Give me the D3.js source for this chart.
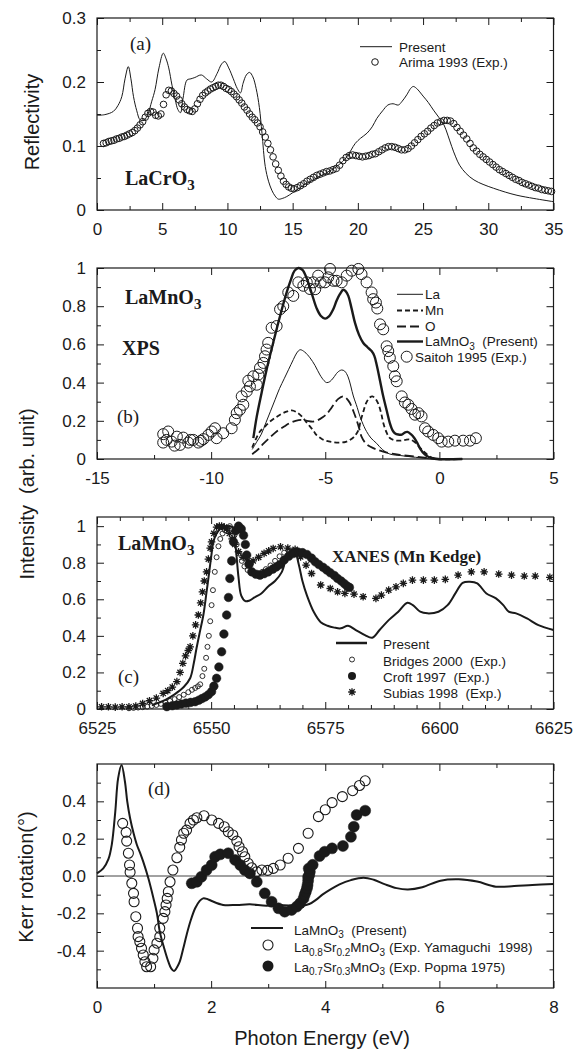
<!DOCTYPE html>
<html><head><meta charset="utf-8">
<script src="https://cdn.jsdelivr.net/npm/d3@7"></script>
<style>body{margin:0;background:#fff}svg{display:block}</style>
</head><body>
<svg id="c" width="575" height="1051"></svg>
<script>
// ---------------- DATA ----------------
// Panel (a) LaCrO3 reflectivity
const aPresent=[[0,0.148],[0.6,0.149],[1.25,0.154],[1.6,0.163],[1.9,0.177],[2.15,0.205],[2.4,0.224],[2.6,0.205],[2.8,0.177],[3.05,0.155],[3.3,0.141],[3.6,0.14],[3.9,0.15],[4.2,0.17],[4.45,0.188],[4.75,0.222],[5.08,0.245],[5.3,0.236],[5.5,0.222],[5.75,0.195],[6.0,0.172],[6.2,0.157],[6.4,0.152],[6.6,0.175],[6.9,0.203],[7.2,0.205],[7.5,0.207],[8.0,0.211],[8.4,0.205],[8.8,0.2],[9.2,0.213],[9.55,0.228],[9.8,0.232],[10.1,0.222],[10.45,0.205],[10.75,0.19],[11.0,0.183],[11.2,0.198],[11.45,0.211],[11.7,0.215],[11.95,0.208],[12.2,0.19],[12.45,0.16],[12.65,0.12],[12.9,0.068],[13.15,0.045],[13.4,0.031],[13.65,0.022],[13.9,0.017],[14.2,0.018],[14.55,0.021],[15.0,0.027],[15.5,0.034],[16.0,0.041],[16.5,0.046],[17.0,0.052],[17.5,0.057],[18.0,0.063],[18.5,0.07],[19.15,0.083],[19.8,0.104],[20.2,0.112],[20.7,0.12],[21.1,0.13],[21.45,0.143],[21.9,0.155],[22.3,0.164],[22.7,0.166],[23.1,0.164],[23.4,0.17],[23.75,0.18],[24.05,0.19],[24.25,0.193],[24.5,0.19],[25.0,0.178],[25.4,0.168],[25.8,0.156],[26.2,0.145],[26.6,0.133],[26.9,0.117],[27.2,0.099],[27.5,0.083],[27.8,0.07],[28.3,0.057],[28.9,0.047],[29.6,0.04],[30.4,0.034],[31.3,0.028],[32.2,0.023],[33.5,0.018],[35.0,0.013]];
const aArima=[[0.5,0.104],[0.7,0.105],[0.9,0.107],[1.1,0.108],[1.3,0.109],[1.5,0.111],[1.7,0.112],[1.9,0.114],[2.1,0.115],[2.3,0.117],[2.5,0.119],[2.7,0.121],[2.9,0.124],[3.1,0.128],[3.3,0.133],[3.5,0.138],[3.7,0.145],[3.9,0.151],[4.1,0.154],[4.3,0.153],[4.5,0.148],[4.7,0.147],[4.9,0.15],[5.1,0.165],[5.3,0.18],[5.5,0.187],[5.7,0.186],[5.9,0.182],[6.1,0.178],[6.3,0.172],[6.5,0.166],[6.7,0.161],[6.9,0.157],[7.1,0.155],[7.3,0.154],[7.5,0.158],[7.7,0.166],[7.9,0.173],[8.1,0.179],[8.3,0.183],[8.5,0.186],[8.7,0.189],[8.9,0.191],[9.1,0.193],[9.3,0.195],[9.5,0.195],[9.7,0.193],[9.9,0.19],[10.1,0.188],[10.3,0.185],[10.5,0.181],[10.7,0.177],[10.9,0.172],[11.1,0.167],[11.3,0.161],[11.5,0.156],[11.7,0.15],[11.9,0.145],[12.1,0.141],[12.3,0.136],[12.5,0.13],[12.7,0.122],[12.9,0.114],[13.1,0.104],[13.3,0.094],[13.5,0.083],[13.7,0.072],[13.9,0.062],[14.1,0.053],[14.3,0.045],[14.5,0.04],[14.7,0.036],[14.9,0.034],[15.1,0.033],[15.35,0.035],[15.6,0.038],[15.85,0.041],[16.1,0.045],[16.35,0.048],[16.6,0.051],[16.85,0.054],[17.1,0.056],[17.35,0.058],[17.6,0.06],[17.85,0.061],[18.1,0.063],[18.35,0.065],[18.6,0.07],[18.85,0.077],[19.1,0.082],[19.35,0.085],[19.6,0.086],[19.85,0.085],[20.1,0.084],[20.35,0.083],[20.6,0.084],[20.85,0.085],[21.1,0.087],[21.35,0.088],[21.6,0.091],[21.85,0.094],[22.1,0.097],[22.35,0.099],[22.6,0.099],[22.85,0.098],[23.1,0.096],[23.35,0.094],[23.6,0.094],[23.85,0.096],[24.1,0.1],[24.35,0.105],[24.6,0.11],[24.85,0.115],[25.1,0.119],[25.35,0.123],[25.6,0.128],[25.85,0.132],[26.1,0.136],[26.35,0.138],[26.6,0.14],[26.85,0.14],[27.1,0.139],[27.35,0.135],[27.6,0.129],[27.85,0.123],[28.1,0.117],[28.35,0.111],[28.6,0.104],[28.85,0.097],[29.1,0.092],[29.35,0.087],[29.6,0.083],[29.85,0.079],[30.1,0.075],[30.35,0.071],[30.6,0.067],[30.85,0.063],[31.1,0.06],[31.35,0.057],[31.6,0.054],[31.85,0.051],[32.1,0.048],[32.35,0.046],[32.6,0.043],[32.85,0.041],[33.1,0.039],[33.35,0.037],[33.6,0.035],[33.85,0.034],[34.1,0.032],[34.35,0.031],[34.6,0.03],[34.85,0.029]];

// Panel (b) LaMnO3 XPS
const bLa=[[-8.2,0.05],[-8.0,0.09],[-7.8,0.13],[-7.6,0.19],[-7.4,0.25],[-7.2,0.31],[-7.0,0.37],[-6.8,0.42],[-6.6,0.47],[-6.4,0.52],[-6.25,0.555],[-6.1,0.572],[-5.9,0.56],[-5.67,0.53],[-5.45,0.49],[-5.23,0.44],[-5.05,0.41],[-4.94,0.4],[-4.8,0.405],[-4.65,0.424],[-4.45,0.455],[-4.28,0.466],[-4.15,0.46],[-4.0,0.43],[-3.77,0.33],[-3.6,0.27],[-3.48,0.223],[-3.3,0.17],[-3.19,0.144],[-3.0,0.11],[-2.75,0.082],[-2.5,0.05],[-2.17,0.026],[-1.7,0.018],[-1.29,0.012],[-0.8,0.006],[-0.3,0.0],[1.0,0.0]];
const bMn=[[-8.2,0.06],[-7.86,0.144],[-7.6,0.175],[-7.42,0.196],[-7.2,0.215],[-6.98,0.232],[-6.7,0.248],[-6.47,0.255],[-6.25,0.245],[-6.03,0.223],[-5.81,0.19],[-5.53,0.15],[-5.38,0.125],[-5.15,0.105],[-4.94,0.095],[-4.65,0.088],[-4.36,0.086],[-4.1,0.09],[-3.92,0.1],[-3.75,0.115],[-3.55,0.15],[-3.45,0.2],[-3.34,0.245],[-3.2,0.295],[-3.05,0.322],[-2.93,0.328],[-2.8,0.315],[-2.68,0.29],[-2.55,0.24],[-2.46,0.19],[-2.3,0.135],[-2.17,0.11],[-1.95,0.098],[-1.73,0.096],[-1.5,0.1],[-1.29,0.102],[-1.1,0.09],[-0.85,0.06],[-0.6,0.03],[-0.41,0.012],[-0.1,0.0],[1.0,0.0]];
const bO=[[-8.2,0.025],[-7.9,0.055],[-7.71,0.08],[-7.4,0.115],[-7.13,0.144],[-6.8,0.17],[-6.55,0.188],[-6.3,0.2],[-6.03,0.205],[-5.8,0.2],[-5.53,0.196],[-5.3,0.205],[-5.1,0.22],[-4.94,0.235],[-4.79,0.258],[-4.6,0.29],[-4.43,0.315],[-4.21,0.328],[-4.05,0.315],[-3.92,0.293],[-3.75,0.245],[-3.63,0.205],[-3.5,0.155],[-3.41,0.117],[-3.25,0.085],[-3.04,0.065],[-2.75,0.05],[-2.46,0.039],[-2.1,0.028],[-1.73,0.021],[-1.0,0.012],[-0.4,0.004],[0.0,0.0],[1.0,0.0]];
const bTotal=[[-8.15,0.109],[-8.0,0.223],[-7.79,0.346],[-7.57,0.468],[-7.28,0.609],[-6.98,0.749],[-6.69,0.872],[-6.5,0.94],[-6.35,0.985],[-6.18,1.0],[-6.0,0.99],[-5.81,0.945],[-5.6,0.87],[-5.38,0.79],[-5.2,0.75],[-5.01,0.735],[-4.85,0.745],[-4.65,0.784],[-4.5,0.83],[-4.36,0.863],[-4.21,0.886],[-4.1,0.878],[-3.99,0.854],[-3.85,0.79],[-3.7,0.714],[-3.52,0.65],[-3.34,0.609],[-3.15,0.585],[-2.97,0.565],[-2.85,0.54],[-2.75,0.495],[-2.6,0.41],[-2.46,0.328],[-2.3,0.25],[-2.17,0.188],[-2.05,0.15],[-1.95,0.135],[-1.8,0.128],[-1.65,0.128],[-1.5,0.14],[-1.4,0.142],[-1.25,0.13],[-1.1,0.11],[-0.95,0.08],[-0.85,0.056],[-0.65,0.025],[-0.49,0.012],[-0.3,0.004],[-0.12,0.0],[1.0,0.0]];
const bSaitoh=[[-12.1,0.13],[-12.1,0.086],[-11.88,0.144],[-11.95,0.1],[-11.73,0.091],[-11.6,0.07],[-11.5,0.117],[-11.36,0.074],[-11.22,0.112],[-11.0,0.086],[-10.9,0.1],[-10.78,0.1],[-10.56,0.086],[-10.45,0.095],[-10.34,0.104],[-10.12,0.126],[-9.98,0.144],[-9.83,0.161],[-9.76,0.109],[-9.47,0.135],[-9.1,0.161],[-8.96,0.205],[-8.88,0.24],[-8.74,0.258],[-8.59,0.284],[-8.66,0.328],[-8.44,0.354],[-8.3,0.38],[-8.37,0.41],[-8.0,0.389],[-8.15,0.433],[-7.93,0.442],[-7.86,0.477],[-7.71,0.503],[-7.64,0.538],[-7.57,0.573],[-7.5,0.608],[-7.35,0.687],[-7.13,0.696],[-6.98,0.784],[-6.84,0.8],[-6.62,0.872],[-6.4,0.854],[-6.18,0.925],[-5.96,0.907],[-5.81,0.925],[-5.67,0.89],[-5.53,0.925],[-5.44,0.889],[-5.31,0.96],[-5.2,0.924],[-5.01,0.925],[-4.87,0.951],[-4.79,0.995],[-4.64,0.933],[-4.5,0.933],[-4.28,0.925],[-4.06,0.96],[-3.84,0.986],[-3.55,0.995],[-3.41,0.968],[-3.19,0.925],[-2.97,0.872],[-2.9,0.837],[-2.78,0.819],[-2.72,0.788],[-2.6,0.705],[-2.46,0.679],[-2.31,0.59],[-2.24,0.565],[-2.17,0.53],[-2.02,0.486],[-1.95,0.433],[-1.87,0.407],[-1.65,0.328],[-1.51,0.296],[-1.36,0.284],[-1.22,0.262],[-1.07,0.232],[-0.92,0.24],[-0.78,0.223],[-0.63,0.161],[-0.49,0.144],[-0.27,0.126],[-0.05,0.109],[0.1,0.091],[0.39,0.091],[0.68,0.096],[1.04,0.096],[1.34,0.096],[1.6,0.109]];

// Panel (c) LaMnO3 XANES
const cPresent=[[6537,0.02],[6540,0.05],[6542,0.08],[6544,0.12],[6545.4,0.168],[6546.2,0.25],[6546.8,0.332],[6547.6,0.43],[6548.3,0.514],[6549.0,0.64],[6549.4,0.714],[6550.0,0.83],[6550.5,0.914],[6551.2,0.96],[6552,0.985],[6553,0.995],[6554.2,1.0],[6554.8,0.99],[6555.4,0.88],[6556,0.72],[6556.6,0.62],[6557.5,0.59],[6558.3,0.592],[6559.5,0.61],[6561,0.632],[6562.5,0.67],[6564,0.7],[6565.5,0.75],[6566.5,0.83],[6567.3,0.865],[6568.2,0.87],[6569.2,0.79],[6570,0.7],[6571,0.62],[6572.5,0.53],[6574,0.475],[6575.5,0.455],[6577,0.445],[6578.4,0.441],[6580,0.455],[6581.7,0.432],[6583.7,0.404],[6585.3,0.39],[6586.9,0.432],[6588.9,0.486],[6591,0.532],[6593,0.581],[6594.2,0.568],[6595.8,0.532],[6597.4,0.523],[6599.8,0.532],[6601.8,0.568],[6603.5,0.632],[6605.1,0.69],[6606.7,0.696],[6608.3,0.687],[6610.3,0.632],[6612.4,0.605],[6614,0.568],[6615.2,0.532],[6616.8,0.523],[6619.2,0.495],[6621.7,0.459],[6625,0.432]];
const cBridges=[[6532,0.004],[6533,0.006],[6534,0.008],[6535,0.01],[6536,0.013],[6537,0.017],[6538,0.022],[6539,0.028],[6540,0.035],[6541,0.044],[6542,0.054],[6543,0.065],[6544,0.078],[6545,0.092],[6545.8,0.105],[6546.5,0.115],[6547.1,0.124],[6547.6,0.135],[6548.1,0.18],[6548.5,0.22],[6548.9,0.28],[6549.2,0.34],[6549.5,0.4],[6549.8,0.48],[6550.1,0.568],[6550.4,0.65],[6550.8,0.75],[6551.2,0.83],[6551.6,0.89],[6552,0.93],[6552.5,0.96],[6553,0.978],[6553.5,0.99],[6554.1,1.0],[6554.6,0.985],[6555.1,0.95],[6555.6,0.9],[6556.1,0.85],[6556.7,0.81],[6557.3,0.78],[6558,0.76],[6558.8,0.745],[6559.6,0.74],[6560.4,0.742],[6561.2,0.75],[6562,0.765],[6563,0.785],[6564,0.81],[6565,0.835],[6566,0.855],[6567,0.865],[6568,0.865]];
const cCroft=[[6540.3,0.013],[6541.5,0.018],[6542.5,0.022],[6543.5,0.027],[6544.5,0.032],[6545.5,0.036],[6546.5,0.04],[6547.3,0.048],[6548,0.057],[6548.7,0.066],[6549.4,0.078],[6550.1,0.095],[6550.6,0.125],[6551.2,0.168],[6551.7,0.23],[6552.3,0.313],[6552.8,0.41],[6553.4,0.514],[6553.8,0.61],[6554.1,0.714],[6554.5,0.81],[6554.9,0.914],[6555.4,0.975],[6556,1.0],[6556.6,0.985],[6557.1,0.95],[6557.5,0.9],[6557.8,0.842],[6558.3,0.79],[6558.9,0.75],[6559.8,0.737],[6560.7,0.732],[6561.6,0.74],[6562.5,0.75],[6563.5,0.765],[6564.3,0.777],[6565.1,0.79],[6566,0.815],[6567,0.835],[6568,0.85],[6569,0.858],[6570,0.855],[6571,0.845],[6572,0.825],[6572.8,0.805],[6573.6,0.79],[6574.5,0.775],[6575.3,0.76],[6576.1,0.745],[6577,0.73],[6577.7,0.714],[6578.5,0.7],[6579.2,0.685],[6579.8,0.672],[6580.3,0.665]];
const cSubias=[[6526,0.012],[6527.5,0.012],[6529,0.01],[6530.5,0.012],[6532,0.012],[6533.5,0.016],[6535,0.03],[6536.5,0.045],[6538,0.06],[6539.5,0.085],[6540.5,0.1],[6541.5,0.12],[6542.5,0.15],[6543.2,0.2],[6543.8,0.25],[6544.4,0.29],[6545,0.32],[6545.4,0.34],[6546,0.4],[6546.6,0.46],[6547.2,0.514],[6547.7,0.58],[6548.1,0.64],[6548.5,0.7],[6549,0.75],[6549.4,0.82],[6549.8,0.88],[6550.1,0.914],[6550.6,0.96],[6551.2,0.995],[6551.8,1.0],[6552.3,1.0],[6552.9,0.995],[6553.4,0.985],[6554,0.96],[6554.6,0.93],[6555.2,0.9],[6556,0.86],[6557,0.83],[6558,0.81],[6559.2,0.81],[6560.4,0.83],[6561.6,0.851],[6562.6,0.865],[6563.6,0.878],[6565.2,0.887],[6566.8,0.88],[6568.4,0.873],[6569.6,0.832],[6570.8,0.787],[6572,0.741],[6574,0.678],[6576.1,0.659],[6577.7,0.641],[6579.3,0.632],[6581.3,0.628],[6583.3,0.614],[6586.1,0.605],[6587.3,0.623],[6588.9,0.65],[6590.5,0.668],[6592.1,0.687],[6594.1,0.705],[6596.5,0.705],[6598.9,0.705],[6601.3,0.709],[6604.1,0.732],[6607,0.75],[6609.8,0.75],[6613,0.738],[6615.8,0.732],[6618.6,0.727],[6621,0.727],[6624.2,0.72]];

// Panel (d) Kerr rotation
const dPresent=[[0,0.014],[0.11,0.041],[0.2,0.09],[0.26,0.17],[0.32,0.344],[0.37,0.523],[0.43,0.595],[0.49,0.505],[0.53,0.4],[0.58,0.309],[0.64,0.23],[0.7,0.166],[0.76,0.12],[0.81,0.077],[0.9,-0.012],[0.99,-0.12],[1.05,-0.2],[1.1,-0.298],[1.18,-0.39],[1.25,-0.459],[1.3,-0.495],[1.35,-0.509],[1.4,-0.49],[1.45,-0.459],[1.51,-0.39],[1.57,-0.316],[1.64,-0.24],[1.72,-0.173],[1.8,-0.133],[1.86,-0.12],[1.93,-0.123],[2.01,-0.134],[2.21,-0.155],[2.45,-0.155],[2.68,-0.152],[2.97,-0.159],[3.21,-0.155],[3.56,-0.16],[3.72,-0.15],[3.85,-0.125],[3.95,-0.1],[4.1,-0.07],[4.25,-0.045],[4.45,-0.022],[4.67,-0.009],[4.85,-0.02],[5.05,-0.045],[5.25,-0.065],[5.45,-0.072],[5.7,-0.06],[6.02,-0.025],[6.34,-0.018],[6.66,-0.03],[6.99,-0.057],[7.31,-0.054],[7.63,-0.048],[8.0,-0.043]];
const dYamaguchi=[[0.45,0.282],[0.51,0.234],[0.52,0.187],[0.55,0.122],[0.57,0.059],[0.58,0.02],[0.61,-0.039],[0.64,-0.093],[0.65,-0.138],[0.68,-0.218],[0.71,-0.28],[0.72,-0.325],[0.75,-0.352],[0.78,-0.387],[0.81,-0.423],[0.84,-0.459],[0.87,-0.486],[0.94,-0.486],[0.98,-0.441],[1.0,-0.396],[1.05,-0.36],[1.1,-0.325],[1.1,-0.28],[1.16,-0.227],[1.19,-0.191],[1.21,-0.155],[1.23,-0.12],[1.25,-0.084],[1.28,-0.031],[1.33,0.032],[1.4,0.098],[1.45,0.154],[1.48,0.193],[1.52,0.229],[1.57,0.246],[1.63,0.282],[1.69,0.3],[1.75,0.312],[1.875,0.323],[2.01,0.3],[2.13,0.282],[2.23,0.264],[2.3,0.237],[2.38,0.22],[2.45,0.187],[2.49,0.157],[2.55,0.13],[2.59,0.103],[2.65,0.068],[2.71,0.044],[2.8,0.023],[2.89,0.032],[2.99,0.03],[3.09,0.041],[3.21,0.059],[3.35,0.095],[3.53,0.148],[3.7,0.229],[3.88,0.318],[4.0,0.355],[4.12,0.393],[4.3,0.425],[4.48,0.457],[4.6,0.485],[4.7,0.51]];
const dPopma=[[1.66,-0.039],[1.75,-0.031],[1.83,-0.004],[1.92,0.032],[2.01,0.059],[2.07,0.103],[2.16,0.116],[2.3,0.122],[2.42,0.086],[2.51,0.059],[2.59,0.032],[2.68,0.014],[2.8,-0.031],[2.94,-0.093],[3.06,-0.138],[3.18,-0.173],[3.29,-0.191],[3.41,-0.182],[3.5,-0.164],[3.56,-0.146],[3.62,-0.12],[3.64,-0.1],[3.66,-0.084],[3.68,-0.065],[3.69,-0.048],[3.7,-0.025],[3.7,-0.005],[3.72,0.005],[3.73,0.023],[3.71,0.04],[3.78,0.06],[3.9,0.107],[3.99,0.13],[4.12,0.148],[4.31,0.161],[4.45,0.21],[4.5,0.264],[4.55,0.327],[4.7,0.35]];

// Tick values
const aXt=[0,5,10,15,20,25,30,35], aXm=[2.5,7.5,12.5,17.5,22.5,27.5,32.5];
const aYt=[0,0.1,0.2,0.3], aYm=[0.05,0.15,0.25];
const bXt=[-15,-10,-5,0,5], bXm=[-12.5,-7.5,-2.5,2.5];
const bYt=[0,0.2,0.4,0.6,0.8,1], bYm=[0.1,0.3,0.5,0.7,0.9];
const cXt=[6525,6550,6575,6600,6625], cXm=[6530,6535,6540,6545,6555,6560,6565,6570,6580,6585,6590,6595,6605,6610,6615,6620];
const cYt=[0,0.2,0.4,0.6,0.8,1], cYm=[0.1,0.3,0.5,0.7,0.9];
const dXt=[0,2,4,6,8], dXm=[1,3,5,7];
const dYt=[-0.4,-0.2,0,0.2,0.4], dYm=[-0.5,-0.3,-0.1,0.1,0.3,0.5];

// ---------------- DRAW ----------------
const INK='#1a1a1a';
const SANS="'Liberation Sans', Arial, Helvetica, sans-serif";
const SERIF="'Liberation Serif', 'Times New Roman', Times, serif";
const L=97, R=553.5;
const svg=d3.select('#c');
svg.append('rect').attr('width',575).attr('height',1051).attr('fill','#fff');

function styleAxis(a){
  a.select('.domain').remove();
  a.attr('font-family',SANS).attr('font-size',17);
  a.selectAll('line').attr('stroke',INK).attr('stroke-width',1);
  a.selectAll('text').attr('fill',INK);
}
function panel(p){
  const x=d3.scaleLinear().domain(p.xd).range([L,R]);
  const y=d3.scaleLinear().domain(p.yd).range([p.bottom,p.top]);
  const g=svg.append('g');
  const ax=g.append('g');
  ax.append('g').attr('transform',`translate(0,${p.bottom})`).call(d3.axisBottom(x).tickValues(p.xt).tickSize(-7).tickPadding(13).tickFormat(p.xf)).call(styleAxis);
  ax.append('g').attr('transform',`translate(0,${p.bottom})`).call(d3.axisBottom(x).tickValues(p.xm).tickSize(-4).tickFormat('')).call(styleAxis);
  ax.append('g').attr('transform',`translate(0,${p.top})`).call(d3.axisTop(x).tickValues(p.xt).tickSize(-7).tickFormat('')).call(styleAxis);
  ax.append('g').attr('transform',`translate(0,${p.top})`).call(d3.axisTop(x).tickValues(p.xm).tickSize(-4).tickFormat('')).call(styleAxis);
  ax.append('g').attr('transform',`translate(${L},0)`).call(d3.axisLeft(y).tickValues(p.yt).tickSize(-7).tickPadding(11).tickFormat(p.yf)).call(styleAxis);
  ax.append('g').attr('transform',`translate(${L},0)`).call(d3.axisLeft(y).tickValues(p.ym).tickSize(-4).tickFormat('')).call(styleAxis);
  ax.append('g').attr('transform',`translate(${R},0)`).call(d3.axisRight(y).tickValues(p.yt).tickSize(-7).tickFormat('')).call(styleAxis);
  ax.append('g').attr('transform',`translate(${R},0)`).call(d3.axisRight(y).tickValues(p.ym).tickSize(-4).tickFormat('')).call(styleAxis);
  g.append('rect').attr('x',L).attr('y',p.top).attr('width',R-L).attr('height',p.bottom-p.top)
    .attr('fill','none').attr('stroke',INK).attr('stroke-width',1.2);
  return {x,y,g};
}
function drawLine(P,data,w,dash){
  const ln=d3.line().x(d=>P.x(d[0])).y(d=>P.y(d[1])).curve(d3.curveCatmullRom.alpha(0.5));
  P.g.append('path').datum(data).attr('d',ln).attr('fill','none').attr('stroke',INK)
    .attr('stroke-width',w).attr('stroke-dasharray',dash||null).attr('stroke-linejoin','round');
}
function drawCircles(P,data,r,filled,sw){
  P.g.append('g').selectAll('circle').data(data).join('circle')
    .attr('cx',d=>P.x(d[0])).attr('cy',d=>P.y(d[1])).attr('r',r)
    .attr('fill',filled?INK:'none').attr('stroke',INK).attr('stroke-width',sw||1);
}
function starPath(s){
  let p='';
  for(let i=0;i<4;i++){const a=i*Math.PI/4,dx=Math.cos(a)*s,dy=Math.sin(a)*s;p+=`M${(-dx).toFixed(2)},${(-dy).toFixed(2)}L${dx.toFixed(2)},${dy.toFixed(2)}`;}
  return p;
}
function drawStars(P,data,s){
  P.g.append('g').selectAll('path').data(data).join('path')
    .attr('transform',d=>`translate(${P.x(d[0])},${P.y(d[1])})`).attr('d',starPath(s))
    .attr('stroke',INK).attr('stroke-width',1.3).attr('fill','none');
}
function rich(x,y,parts,o){
  const t=svg.append('text').attr('x',x).attr('y',y).attr('font-family',o.family).attr('font-size',o.size)
    .attr('font-weight',o.weight||'normal').attr('fill',INK).style('white-space','pre');
  let shift=0;
  parts.forEach(([s,sub])=>{
    const ts=t.append('tspan').text(s);
    const want=sub?o.sub[1]:0;
    if(want!==shift){ts.attr('dy',want-shift);shift=want;}
    if(sub) ts.attr('font-size',o.sub[0]);
  });
  return t;
}
const LEG={family:SANS,size:13.5,sub:[10,3.5]};
const LAB={family:SERIF,size:20,weight:'bold',sub:[15,5]};
const PAN={family:SERIF,size:19};

// ----- Panel (a)
const A=panel({xd:[0,35],yd:[0,0.3],top:18,bottom:210,xt:aXt,xm:aXm,yt:aYt,ym:aYm,xf:String,yf:String});
drawCircles(A,aArima,3.3,false,1);
drawLine(A,aPresent,1);
svg.append('line').attr('x1',360).attr('x2',392).attr('y1',46.7).attr('y2',46.7).attr('stroke',INK).attr('stroke-width',1);
rich(399,51.5,[['Present']],LEG);
svg.append('circle').attr('cx',375).attr('cy',62).attr('r',3.3).attr('fill','none').attr('stroke',INK);
rich(399,67,[['Arima 1993 (Exp.)']],LEG);
rich(130,49.5,[['(a)']],PAN);
rich(125,185,[['LaCrO'],['3',1]],LAB);

// ----- Panel (b)
const B=panel({xd:[-15,5],yd:[0,1],top:268,bottom:459,xt:bXt,xm:bXm,yt:bYt,ym:bYm,xf:String,yf:String});
drawLine(B,bLa,1);
drawLine(B,bMn,1.8,'5,3');
drawLine(B,bO,1.8,'9,4');
drawLine(B,bTotal,2.4);
drawCircles(B,bSaitoh,5.5,false,1);
svg.append('line').attr('x1',397).attr('x2',423).attr('y1',294.3).attr('y2',294.3).attr('stroke',INK).attr('stroke-width',1);
rich(425,298.5,[['La']],LEG);
svg.append('line').attr('x1',397).attr('x2',423).attr('y1',310.5).attr('y2',310.5).attr('stroke',INK).attr('stroke-width',1.8).attr('stroke-dasharray','5,3');
rich(425,314.5,[['Mn']],LEG);
svg.append('line').attr('x1',397).attr('x2',423).attr('y1',326.5).attr('y2',326.5).attr('stroke',INK).attr('stroke-width',1.8).attr('stroke-dasharray','9,4');
rich(425,330.5,[['O']],LEG);
svg.append('line').attr('x1',397).attr('x2',423).attr('y1',341.5).attr('y2',341.5).attr('stroke',INK).attr('stroke-width',2.4);
rich(425,346,[['LaMnO'],['3',1],['  (Present)']],LEG);
svg.append('circle').attr('cx',406.7).attr('cy',356.7).attr('r',5.5).attr('fill','none').attr('stroke',INK);
rich(415,361.5,[['Saitoh 1995 (Exp.)']],LEG);
rich(125,303.5,[['LaMnO'],['3',1]],LAB);
rich(122,355,[['XPS']],LAB);
rich(117,423,[['(b)']],PAN);

// ----- Panel (c)
const C=panel({xd:[6525,6625],yd:[0,1.05],top:517,bottom:709,xt:cXt,xm:cXm,yt:cYt,ym:cYm,xf:String,yf:String});
drawStars(C,cSubias,3.8);
drawCircles(C,cBridges,2.5,false,0.9);
drawCircles(C,cCroft,4.3,true,0.5);
drawLine(C,cPresent,2);
svg.append('line').attr('x1',336).attr('x2',367).attr('y1',643).attr('y2',643).attr('stroke',INK).attr('stroke-width',2.5);
rich(383,649,[['Present']],LEG);
svg.append('circle').attr('cx',352).attr('cy',659.5).attr('r',2.5).attr('fill','none').attr('stroke',INK).attr('stroke-width',0.9);
rich(383,665.5,[['Bridges 2000  (Exp.)']],LEG);
svg.append('circle').attr('cx',352).attr('cy',676).attr('r',4).attr('fill',INK);
rich(383,681.5,[['Croft 1997  (Exp.)']],LEG);
svg.append('path').attr('transform','translate(352,692)').attr('d',starPath(3.8)).attr('stroke',INK).attr('stroke-width',1.3);
rich(383,698,[['Subias 1998  (Exp.)']],LEG);
rich(118,550,[['LaMnO'],['3',1]],LAB);
rich(332,562,[['XANES (Mn Kedge)']],{family:SERIF,size:17,weight:'bold'});
rich(118,683,[['(c)']],PAN);

// ----- Panel (d)
const D=panel({xd:[0,8],yd:[-0.6,0.6],top:764,bottom:988,xt:dXt,xm:dXm,yt:dYt,ym:dYm,xf:String,yf:d=>d.toFixed(1)});
D.g.append('line').attr('x1',L).attr('x2',R).attr('y1',D.y(0)).attr('y2',D.y(0)).attr('stroke','#444').attr('stroke-width',1);
drawLine(D,dPresent,2);
drawCircles(D,dYamaguchi,5,false,1.1);
drawCircles(D,dPopma,5.5,true,0.5);
svg.append('line').attr('x1',251).attr('x2',283).attr('y1',928).attr('y2',928).attr('stroke',INK).attr('stroke-width',2);
rich(294,934.5,[['LaMnO'],['3',1],['  (Present)']],LEG);
svg.append('circle').attr('cx',268).attr('cy',945).attr('r',5).attr('fill','none').attr('stroke',INK).attr('stroke-width',1.1);
rich(294,952,[['La'],['0.8',1],['Sr'],['0.2',1],['MnO'],['3',1],[' (Exp. Yamaguchi  1998)']],LEG);
svg.append('circle').attr('cx',268).attr('cy',966).attr('r',5.5).attr('fill',INK);
rich(294,971.5,[['La'],['0.7',1],['Sr'],['0.3',1],['MnO'],['3',1],[' (Exp. Popma 1975)']],LEG);
rich(148,795,[['(d)']],PAN);

// ----- Axis titles
function vtitle(x,y,txt){
  svg.append('text').attr('transform',`translate(${x},${y}) rotate(-90)`).attr('text-anchor','middle').attr('dy','0.35em')
    .attr('font-family',SANS).attr('font-size',20).attr('fill',INK).style('white-space','pre').text(txt);
}
vtitle(32,122,'Reflectivity');
vtitle(27,494,'Intensity  (arb. unit)');
vtitle(26,877,'Kerr rotation(°)');
svg.append('text').attr('x',322).attr('y',1045).attr('text-anchor','middle').attr('font-family',SANS).attr('font-size',20).attr('fill',INK).text('Photon Energy (eV)');
</script>
</body></html>
